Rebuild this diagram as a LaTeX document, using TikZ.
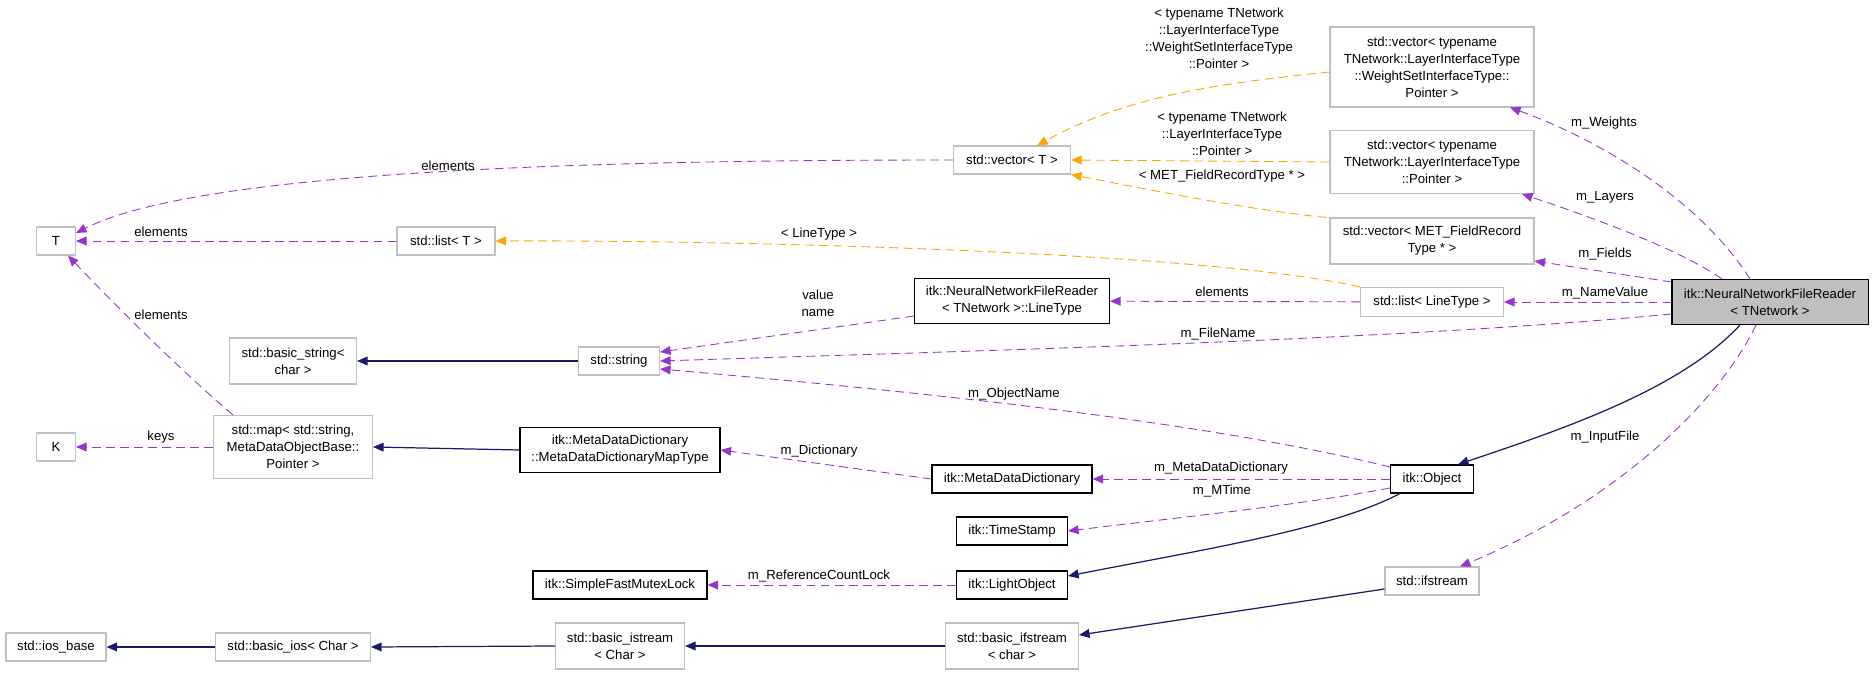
\documentclass[tikz,border=0pt]{standalone}
\usepackage{fontspec}
\setmainfont{Liberation Sans}
\usetikzlibrary{arrows.meta}
\definecolor{gb}{HTML}{BFBFBF}
\definecolor{pur}{HTML}{9A32CD}
\definecolor{org}{HTML}{FFA500}
\definecolor{nav}{HTML}{191970}
\begin{document}
\begin{tikzpicture}[x=0.02cm,y=-0.02cm,
  every node/.style={font=\fontsize{7.5}{9.6}\selectfont,align=center,inner sep=0pt},
  box/.style n args={2}{draw, line width=0.6pt, minimum width=#1*0.02cm, minimum height=#2*0.02cm},
  gbox/.style n args={2}{box={#1}{#2}, draw=gb},
  kbox/.style n args={2}{box={#1}{#2}, draw=black},
  mem/.style={pur, dashed, dash pattern=on 5pt off 3pt, line width=0.5pt, -{Triangle[length=6pt,width=5pt]}},
  tpl/.style={org, dashed, dash pattern=on 5pt off 3pt, line width=0.5pt, -{Triangle[length=6pt,width=5pt]}},
  inh/.style={nav, line width=0.7pt, -{Triangle[length=6pt,width=5pt]}}]
\useasboundingbox (0,0) rectangle (1872,675);
% nodes
\node[gbox={39}{28}] (T) at (56,241) {T};
\node[gbox={39}{28}] (K) at (56,447) {K};
\node[gbox={100}{28}] (iosb) at (56,647) {std::ios\_base};
\node[gbox={127}{46}] (bstr) at (293,361) {std::basic\_string\textless\\char \textgreater};
\node[gbox={159}{63}] (map) at (293,447) {std::map\textless\ std::string,\\MetaDataObjectBase::\\Pointer \textgreater};
\node[gbox={155}{28}] (bios) at (293,647) {std::basic\_ios\textless\ Char \textgreater};
\node[gbox={98}{28}] (listT) at (446,241) {std::list\textless\ T \textgreater};
\node[gbox={81}{28}] (str) at (619,361) {std::string};
\node[kbox={200}{45}] (mapT) at (620,450) {itk::MetaDataDictionary\\::MetaDataDictionaryMapType};
\node[kbox={174}{28}] (mutex) at (620,585) {itk::SimpleFastMutexLock};
\node[gbox={129}{46}] (bist) at (620,646) {std::basic\_istream\\\textless\ Char \textgreater};
\node[gbox={117}{28}] (vecT) at (1012,160) {std::vector\textless\ T \textgreater};
\node[kbox={195}{45}] (lt) at (1012,301) {itk::NeuralNetworkFileReader\\\textless\ TNetwork \textgreater::LineType};
\node[kbox={160}{28}] (mdd) at (1012,479) {itk::MetaDataDictionary};
\node[kbox={111}{28}] (ts) at (1012,531) {itk::TimeStamp};
\node[kbox={111}{28}] (lo) at (1012,585) {itk::LightObject};
\node[gbox={133}{46}] (bif) at (1012,646) {std::basic\_ifstream\\\textless\ char \textgreater};
\node[gbox={204}{80}] (vw) at (1432,67) {std::vector\textless\ typename\\ TNetwork::LayerInterfaceType\\::WeightSetInterfaceType::\\Pointer \textgreater};
\node[gbox={204}{63}] (vl) at (1432,162) {std::vector\textless\ typename\\ TNetwork::LayerInterfaceType\\::Pointer \textgreater};
\node[gbox={204}{46}] (vf) at (1432,241) {std::vector\textless\ MET\_FieldRecord\\Type * \textgreater};
\node[gbox={143}{29}] (llt) at (1432,302) {std::list\textless\ LineType \textgreater};
\node[kbox={83}{28}] (obj) at (1432,479) {itk::Object};
\node[gbox={94}{28}] (ifs) at (1432,581) {std::ifstream};
\node[box={196}{45},draw=black,fill=gb] (nn) at (1770,302) {itk::NeuralNetworkFileReader\\\textless\ TNetwork \textgreater};
% inheritance
\draw[inh] (str) -- (bstr);
\draw[inh] (mapT.west) -- (map.east);
\draw[inh] (bif.west) -- (bist.east);
\draw[inh] (bist.west) -- (bios.east);
\draw[inh] (bios) -- (iosb);
\draw[inh] ([shift={(-30,0)}]nn.south) .. controls (1680,390) and (1560,430) .. ([shift={(26,0)}]obj.north);
\draw[inh] ([shift={(-32,0)}]obj.south) .. controls (1330,530) and (1200,550) .. ([shift={(0,-9)}]lo.east);
\draw[inh] ([shift={(0,8)}]ifs.west) -- ([shift={(0,-11)}]bif.east);
% template
\draw[tpl] ([shift={(0,5)}]vw.west) .. controls (1200,85) and (1120,100) .. ([shift={(25,0)}]vecT.north);
\draw[tpl] (vl.west) -- (vecT.east);
\draw[tpl] ([shift={(-3,0)}]vf.north west) .. controls (1250,210) and (1150,190) .. (vecT.south east);
\draw[tpl] (llt.north west) .. controls (1200,250) and (700,240) .. (listT.east);
% members
\draw[mem] (vecT.west) .. controls (600,160) and (200,170) .. ([shift={(0,-8)}]T.east);
\draw[mem] (listT) -- (T);
\draw[mem] ([shift={(-60,0)}]map.north) .. controls (180,370) and (110,300) .. ([shift={(12,0)}]T.south);
\draw[mem] (map) -- (K);
\draw[mem] ([shift={(0,15)}]lt.west) -- ([shift={(0,-9)}]str.east);
\draw[mem] ([shift={(0,12)}]nn.west) .. controls (1400,340) and (1000,350) .. (str.east);
\draw[mem] ([shift={(0,-12)}]obj.west) .. controls (1200,420) and (900,390) .. ([shift={(0,8)}]str.east);
\draw[mem] (mdd.west) -- (mapT.east);
\draw[mem] (obj) -- (mdd);
\draw[mem] ([shift={(0,9)}]obj.west) .. controls (1300,505) and (1200,515) .. (ts.east);
\draw[mem] (lo) -- (mutex);
\draw[mem] (llt) -- (lt);
\draw[mem] ([shift={(-20,0)}]nn.north) .. controls (1700,200) and (1600,140) .. ([shift={(78,0)}]vw.south);
\draw[mem] ([shift={(-48,0)}]nn.north) .. controls (1680,250) and (1600,220) .. ([shift={(90,0)}]vl.south);
\draw[mem] ([shift={(0,3)}]nn.north west) -- ([shift={(0,20)}]vf.east);
\draw[mem] (nn.west) -- (llt.east);
\draw[mem] ([shift={(-14,0)}]nn.south) .. controls (1720,400) and (1620,500) .. ([shift={(28,0)}]ifs.north);
% labels
\node at (1219,38) {\textless\ typename TNetwork\\::LayerInterfaceType\\::WeightSetInterfaceType\\::Pointer \textgreater};
\node at (1222,134) {\textless\ typename TNetwork\\::LayerInterfaceType\\::Pointer \textgreater};
\node at (1222,176) {\textless\ MET\_FieldRecordType * \textgreater};
\node at (819,234) {\textless\ LineType \textgreater};
\node at (448,166) {elements};
\node at (161,232) {elements};
\node at (161,315) {elements};
\node at (161,437) {keys};
\node at (818,303) {value\\name};
\node at (1222,292) {elements};
\node at (1218,334) {m\_FileName};
\node at (1014,394) {m\_ObjectName};
\node at (819,451) {m\_Dictionary};
\node at (1221,468) {m\_MetaDataDictionary};
\node at (1222,491) {m\_MTime};
\node at (819,576) {m\_ReferenceCountLock};
\node at (1604,123) {m\_Weights};
\node at (1605,197) {m\_Layers};
\node at (1605,254) {m\_Fields};
\node at (1605,293) {m\_NameValue};
\node at (1605,437) {m\_InputFile};
\end{tikzpicture}
\end{document}
